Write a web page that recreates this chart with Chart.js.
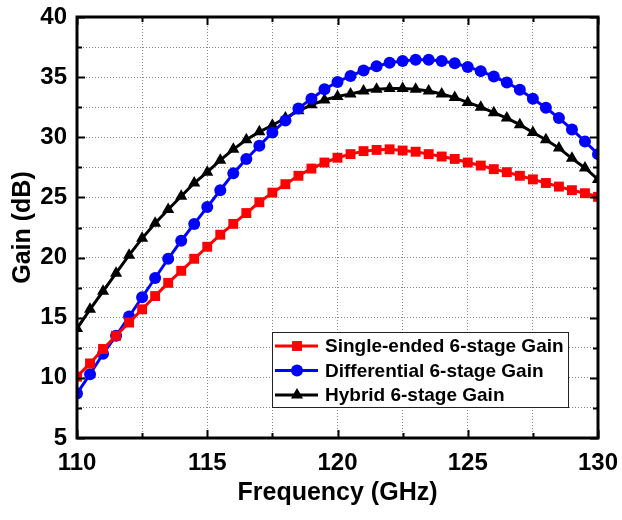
<!DOCTYPE html>
<html>
<head>
<meta charset="utf-8">
<script src="https://cdn.jsdelivr.net/npm/chart.js@4.4.1/dist/chart.umd.min.js"></script>
<style>
  html, body { margin: 0; padding: 0; background: #fff; }
  #wrap { width: 622px; height: 520px; }
</style>
</head>
<body>
<div id="wrap"><canvas id="gainChart" width="622" height="520"></canvas></div>
<script>
// frequency points (GHz)
const frequencies = [
  110, 110.5, 111, 111.5, 112, 112.5, 113, 113.5, 114, 114.5,
  115, 115.5, 116, 116.5, 117, 117.5, 118, 118.5, 119, 119.5,
  120, 120.5, 121, 121.5, 122, 122.5, 123, 123.5, 124, 124.5,
  125, 125.5, 126, 126.5, 127, 127.5, 128, 128.5, 129, 129.5, 130,
];

// gain values (dB)
const singleEndedGain = [
  10.1, 11.2, 12.4, 13.5, 14.6, 15.7, 16.8, 17.9, 18.9, 19.9,
  20.9, 21.9, 22.8, 23.7, 24.6, 25.4, 26.1, 26.8, 27.4, 27.9,
  28.3, 28.6, 28.85, 28.95, 29.0, 28.9, 28.8, 28.6, 28.4, 28.2,
  27.9, 27.65, 27.35, 27.1, 26.8, 26.5, 26.2, 25.9, 25.6, 25.35, 25.05,
];
const differentialGain = [
  8.7, 10.3, 12.0, 13.5, 15.1, 16.7, 18.3, 19.9, 21.4, 22.8,
  24.2, 25.6, 27.0, 28.2, 29.3, 30.4, 31.4, 32.4, 33.2, 34.0,
  34.6, 35.1, 35.55, 35.9, 36.2, 36.35, 36.45, 36.45, 36.35, 36.15,
  35.85, 35.5, 35.05, 34.55, 33.95, 33.2, 32.45, 31.6, 30.65, 29.65, 28.6,
];
const hybridGain = [
  14.1, 15.7, 17.2, 18.7, 20.2, 21.6, 22.85, 24.0, 25.1, 26.2,
  27.1, 28.1, 29.0, 29.8, 30.45, 31.0, 31.6, 32.2, 32.7, 33.1,
  33.4, 33.6, 33.85, 34.0, 34.05, 34.05, 34.0, 33.85, 33.6, 33.3,
  32.9, 32.5, 32.05, 31.6, 31.05, 30.4, 29.8, 29.1, 28.25, 27.45, 26.5,
];

const seriesLabels = [
  "Single-ended 6-stage Gain",
  "Differential 6-stage Gain",
  "Hybrid 6-stage Gain",
];
const seriesColors = ["#FF0000", "#0000FF", "#000000"];
const seriesMarkers = ["rect", "circle", "triangle"];
const seriesRadius = [7, 6, 7];

const xTickLabels = [110, 115, 120, 125, 130];
const yTickLabels = [5, 10, 15, 20, 25, 30, 35, 40];

const FONT = "'Liberation Sans', Arial, sans-serif";

const toPoints = (ys) => frequencies.map((f, i) => ({ x: f, y: ys[i] }));

const drawMarker = (ctx, style, x, y, r, color) => {
  ctx.save();
  ctx.fillStyle = color;
  ctx.beginPath();
  if (style === "rect") {
    const s = Math.SQRT1_2 * r;
    ctx.rect(x - s, y - s, 2 * s, 2 * s);
  } else if (style === "circle") {
    ctx.arc(x, y, r, 0, Math.PI * 2);
  } else {
    ctx.moveTo(x, y - r);
    ctx.lineTo(x + r * Math.sin(Math.PI / 3), y + r / 2);
    ctx.lineTo(x - r * Math.sin(Math.PI / 3), y + r / 2);
    ctx.closePath();
  }
  ctx.fill();
  ctx.restore();
};

// axes frame with inward ticks on all four sides + legend box inside the plot
const framePlugin = {
  id: "frame",
  afterDatasetsDraw(chart) {
    const { ctx, chartArea: a, scales } = chart;
    ctx.save();
    ctx.strokeStyle = "#000";
    ctx.lineWidth = 2;
    ctx.beginPath();
    scales.x.ticks.forEach((t) => {
      const px = Math.round(scales.x.getPixelForValue(t.value)) + 0.5;
      const len = xTickLabels.includes(t.value) ? 8 : 5;
      ctx.moveTo(px, a.bottom);
      ctx.lineTo(px, a.bottom - len);
      ctx.moveTo(px, a.top);
      ctx.lineTo(px, a.top + len);
    });
    scales.y.ticks.forEach((t) => {
      const py = Math.round(scales.y.getPixelForValue(t.value)) + 0.5;
      const len = yTickLabels.includes(t.value) ? 8 : 5;
      ctx.moveTo(a.left, py);
      ctx.lineTo(a.left + len, py);
      ctx.moveTo(a.right, py);
      ctx.lineTo(a.right - len, py);
    });
    ctx.stroke();
    ctx.lineWidth = 3;
    ctx.strokeRect(a.left, a.top, a.right - a.left, a.bottom - a.top);
    ctx.restore();
  },
  afterDraw(chart) {
    const { ctx, chartArea: a } = chart;
    const bx = a.left + 195;
    const by = a.top + 315;
    const bw = 296;
    const bh = 75;
    ctx.save();
    ctx.fillStyle = "#fff";
    ctx.fillRect(bx, by, bw, bh);
    ctx.strokeStyle = "#222";
    ctx.lineWidth = 1;
    ctx.strokeRect(bx + 0.5, by + 0.5, bw, bh);
    chart.data.datasets.forEach((ds, i) => {
      const cy = by + 14 + i * 24.5;
      ctx.strokeStyle = ds.borderColor;
      ctx.lineWidth = 3;
      ctx.beginPath();
      ctx.moveTo(bx + 3, cy);
      ctx.lineTo(bx + 46, cy);
      ctx.stroke();
      drawMarker(ctx, seriesMarkers[i], bx + 25, cy, seriesRadius[i], ds.borderColor);
      ctx.fillStyle = "#000";
      ctx.font = "bold 19px " + FONT;
      ctx.textAlign = "left";
      ctx.textBaseline = "middle";
      ctx.fillText(ds.label, bx + 53, cy + 1);
    });
    ctx.restore();
  },
};

const datasets = [singleEndedGain, differentialGain, hybridGain].map((ys, i) => ({
  label: seriesLabels[i],
  data: toPoints(ys),
  borderColor: seriesColors[i],
  backgroundColor: seriesColors[i],
  borderWidth: 3,
  pointStyle: seriesMarkers[i],
  pointRadius: seriesRadius[i],
  pointHoverRadius: seriesRadius[i],
  pointBorderWidth: 0,
  tension: 0,
  clip: 0,
}));

new Chart(document.getElementById("gainChart"), {
  type: "line",
  data: { datasets },
  plugins: [framePlugin],
  options: {
    responsive: false,
    animation: false,
    layout: { padding: { top: 17, right: 24, left: 0, bottom: 0 } },
    plugins: {
      legend: { display: false },
      tooltip: { enabled: false },
    },
    scales: {
      x: {
        type: "linear",
        min: 110,
        max: 130,
        afterFit: (s) => {
          s.height = 82;
          s.paddingLeft = 0;
          s.paddingRight = 0;
        },
        ticks: {
          stepSize: 2.5,
          autoSkip: false,
          maxRotation: 0,
          padding: 11,
          color: "#000",
          font: { family: FONT, size: 24, weight: "bold" },
          callback: (v) => (xTickLabels.includes(v) ? String(v) : ""),
        },
        grid: { color: "#888", lineWidth: 1, drawTicks: false },
        border: { display: false, dash: [1, 2] },
        title: {
          display: true,
          text: "Frequency (GHz)",
          color: "#000",
          font: { family: FONT, size: 25, weight: "bold" },
          padding: { top: 0, bottom: 12 },
        },
      },
      y: {
        min: 5,
        max: 40,
        afterFit: (s) => {
          s.width = 77;
          s.paddingTop = 0;
          s.paddingBottom = 0;
        },
        ticks: {
          stepSize: 2.5,
          autoSkip: false,
          padding: 10,
          color: "#000",
          font: { family: FONT, size: 24, weight: "bold" },
          callback: (v) => (yTickLabels.includes(v) ? String(v) : ""),
        },
        grid: { color: "#888", lineWidth: 1, drawTicks: false },
        border: { display: false, dash: [1, 2] },
        title: {
          display: true,
          text: "Gain (dB)",
          color: "#000",
          font: { family: FONT, size: 25, weight: "bold" },
          padding: { top: 8, bottom: 0 },
        },
      },
    },
  },
});
</script>
</body>
</html>
